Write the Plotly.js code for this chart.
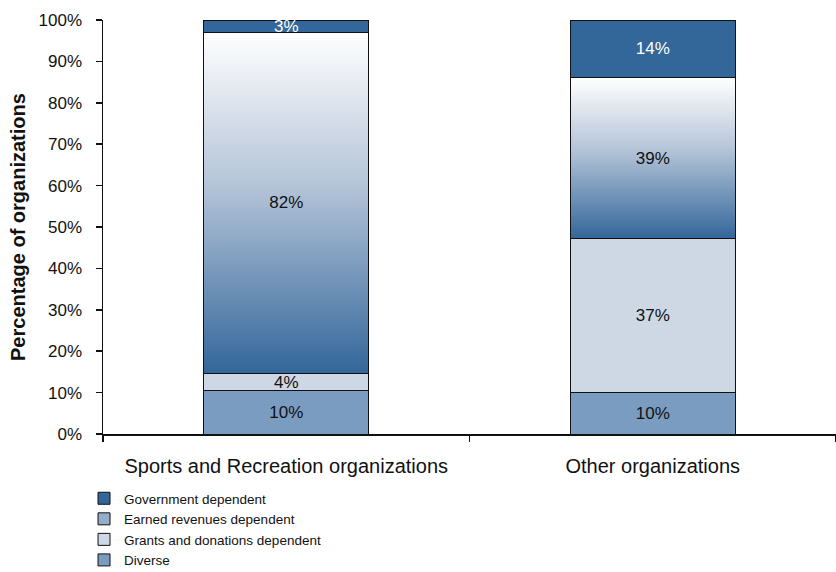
<!DOCTYPE html>
<html>
<head>
<meta charset="utf-8">
<script src="https://cdn.plot.ly/plotly-3.0.1.min.js"></script>
<style>html,body{margin:0;padding:0;background:#fff;}#chart{width:836px;height:572px;}</style>
</head>
<body>
<div id="chart"></div>
<script>
// ---- data ----
const categories = ['Sports and Recreation organizations', 'Other organizations'];
const diverse    = [10.4, 10.0];
const grants     = [4.3, 37.2];
const earned     = [82.4, 38.9];
const government = [2.9, 13.9];
const seriesNames = ['Diverse', 'Grants and donations dependent', 'Earned revenues dependent', 'Government dependent'];
const yTickVals   = [0, 10, 20, 30, 40, 50, 60, 70, 80, 90, 100];
const yTickLabels = ['0%', '10%', '20%', '30%', '40%', '50%', '60%', '70%', '80%', '90%', '100%'];
const yTitle = 'Percentage of organizations';

// ---- style ----
const FONT = 'Liberation Sans, Arial, sans-serif';
const BAR_W = 0.45;
const LINE = {color: '#111', width: 1};
const C_GOV = '#336699', C_GRANT = '#cdd8e4', C_DIV = '#7b9cc1', C_EARN_LEG = '#94adc9';

const lbl = v => v.map(x => Math.round(x) + '%');

function gradientURL() {
  const svg = "<svg xmlns='http://www.w3.org/2000/svg' width='10' height='100' viewBox='0 0 10 100' preserveAspectRatio='none'>" +
    "<defs><linearGradient id='g' x1='0' y1='0' x2='0' y2='1'>" +
    "<stop offset='0' stop-color='#ffffff'/><stop offset='0.45' stop-color='#b4c4d8'/><stop offset='1' stop-color='#33669a'/>" +
    "</linearGradient></defs><rect x='0' y='0' width='10' height='100' fill='url(#g)'/></svg>";
  return 'data:image/svg+xml;charset=utf-8,' + encodeURIComponent(svg);
}

function barTrace(name, vals, color, textColor, extra) {
  return Object.assign({
    type: 'bar', x: categories, y: vals, name: name, width: BAR_W,
    marker: {color: color, line: LINE},
    text: lbl(vals), textposition: 'inside', insidetextanchor: 'middle',
    constraintext: 'none', textangle: 0,
    textfont: {family: FONT, size: 17, color: textColor},
    hoverinfo: 'x+y+name'
  }, extra || {});
}

const traces = [
  barTrace(seriesNames[0], diverse, C_DIV, '#111'),
  barTrace(seriesNames[1], grants, C_GRANT, '#111'),
  // legend entry for the gradient series
  {type: 'bar', x: categories, y: categories.map(() => null), name: seriesNames[2], width: BAR_W,
   marker: {color: C_EARN_LEG, line: LINE}, legendgroup: 'earned', hoverinfo: 'skip'},
  barTrace(seriesNames[2], earned, 'rgba(0,0,0,0)', '#111', {showlegend: false, legendgroup: 'earned'}),
  barTrace(seriesNames[3], government, C_GOV, '#ffffff')
];

const grad = gradientURL();
const images = categories.map((c, i) => ({
  source: grad, xref: 'x', yref: 'y',
  x: i - BAR_W / 2, y: diverse[i] + grants[i] + earned[i],
  sizex: BAR_W, sizey: earned[i],
  xanchor: 'left', yanchor: 'top', sizing: 'stretch', layer: 'below'
}));

const layout = {
  width: 836, height: 572,
  margin: {l: 103, r: 0, t: 20, b: 138, pad: 0, autoexpand: false},
  paper_bgcolor: '#fff', plot_bgcolor: '#fff',
  barmode: 'stack', bargap: 0.55,
  font: {family: FONT, color: '#111'},
  showlegend: true,
  legend: {
    traceorder: 'reversed', orientation: 'v',
    xref: 'container', yref: 'container',
    x: 0.1005, xanchor: 'left', y: 0.1556, yanchor: 'top',
    font: {family: FONT, size: 13.5, color: '#111'},
    bgcolor: 'rgba(0,0,0,0)', itemwidth: 30
  },
  xaxis: {
    type: 'category', range: [-0.5, 1.5], automargin: false,
    showline: true, linecolor: '#111', linewidth: 1.5,
    ticks: 'outside', tickson: 'boundaries', ticklen: 6, tickwidth: 1.5, tickcolor: '#111',
    ticklabelstandoff: 13,
    tickfont: {family: FONT, size: 20, color: '#111'},
    showgrid: false, zeroline: false, fixedrange: true
  },
  yaxis: {
    range: [0, 100], tickmode: 'array', tickvals: yTickVals, ticktext: yTickLabels, automargin: false,
    showline: true, linecolor: '#111', linewidth: 1.5,
    ticks: 'outside', ticklen: 6, tickwidth: 1.5, tickcolor: '#111',
    ticklabelstandoff: 10,
    tickfont: {family: FONT, size: 17, color: '#111'},
    showgrid: false, zeroline: false, fixedrange: true
  },
  annotations: [{
    text: yTitle, textangle: -90, showarrow: false,
    xref: 'paper', yref: 'paper', x: -0.116, y: 0.5, xanchor: 'center', yanchor: 'middle',
    font: {family: FONT, size: 20, color: '#111', weight: 'bold'}
  }],
  images: images
};

Plotly.newPlot('chart', traces, layout, {displayModeBar: false, staticPlot: true});
</script>
</body>
</html>
